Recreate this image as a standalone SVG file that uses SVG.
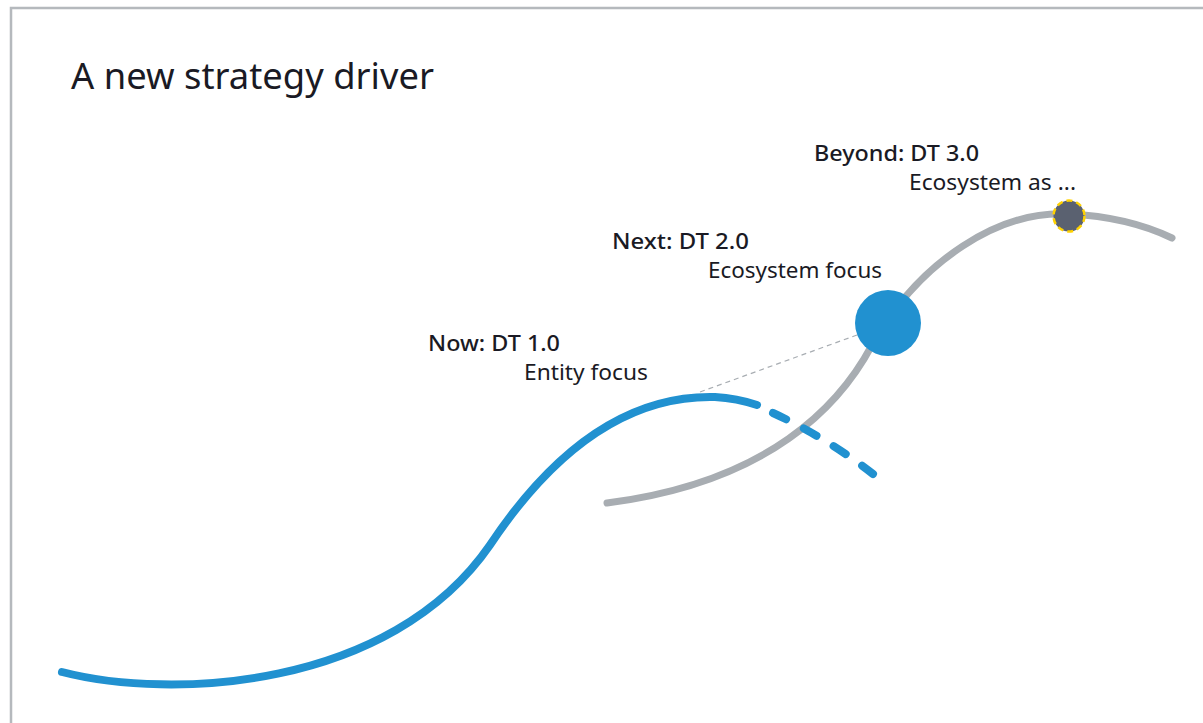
<svg xmlns="http://www.w3.org/2000/svg" width="1203" height="723" viewBox="0 0 1203 723">
<style>
.t{font-family:"Noto Sans","Open Sans",sans-serif;fill:#1a1a24}
.h{font-size:21px;font-weight:500}
.s{font-size:21px;font-weight:400}
.blue{fill:none;stroke:#2191d0;stroke-width:8;stroke-linecap:round}
.gray{fill:none;stroke:#a8adb2;stroke-width:7;stroke-linecap:round}
</style>
<rect x="0" y="0" width="1203" height="723" fill="#ffffff"/>
<rect x="11" y="8" width="1240" height="760" fill="none" stroke="#b5b9bd" stroke-width="2.5"/>
<text class="t" x="71" y="89" font-size="36" textLength="363" lengthAdjust="spacingAndGlyphs">A new strategy driver</text>
<g id="connectors">
<path id="gray-curve" class="gray" d="M607,503 C770,482 840,405 872,345 C920,260 1000,210 1069,214 C1110,216 1145,225 1172,238"/>
<path id="blue-curve" class="blue" d="M62,672 C170,700 390,690 490,545 C560,440 635,395 715,397 C732,398 745,401 757,405"/>
<path id="blue-dashed" class="blue" stroke-dasharray="14.5,20" d="M773,413 C810,430 845,452 873,474"/>
<line id="leader" x1="700" y1="392" x2="857" y2="335" stroke="#a8adb2" stroke-width="1.2" stroke-dasharray="5,4"/>
</g>
<g id="node-now">
<text class="t h" x="428" y="351" textLength="132" lengthAdjust="spacingAndGlyphs">Now: DT 1.0</text>
<text class="t s" x="524" y="380" textLength="124" lengthAdjust="spacingAndGlyphs">Entity focus</text>
</g>
<g id="node-next">
<circle cx="888" cy="323" r="33" fill="#2191d0"/>
<text class="t h" x="612" y="249" textLength="137" lengthAdjust="spacingAndGlyphs">Next: DT 2.0</text>
<text class="t s" x="708" y="278" textLength="174" lengthAdjust="spacingAndGlyphs">Ecosystem focus</text>
</g>
<g id="node-beyond">
<circle cx="1069" cy="216" r="15.5" fill="#5a6170" stroke="#ffd200" stroke-width="2.5" stroke-dasharray="6,4"/>
<text class="t h" x="814" y="161" textLength="165" lengthAdjust="spacingAndGlyphs">Beyond: DT 3.0</text>
<text class="t s" x="909" y="190" textLength="167" lengthAdjust="spacingAndGlyphs">Ecosystem as ...</text>
</g>
</svg>
